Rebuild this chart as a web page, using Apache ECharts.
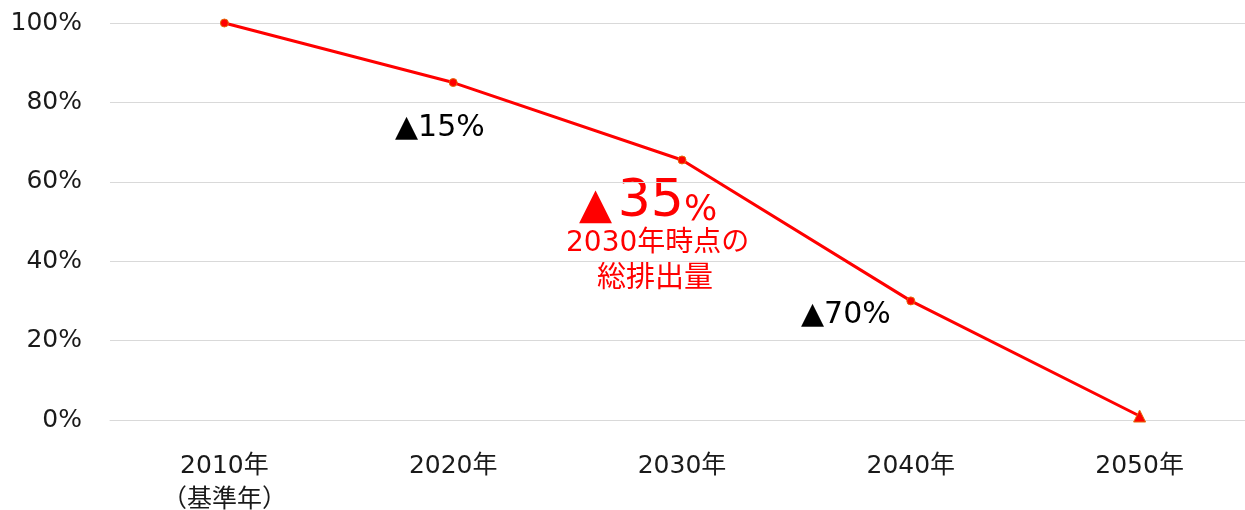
<!DOCTYPE html>
<html><head><meta charset="utf-8">
<script src="https://cdn.jsdelivr.net/npm/echarts@6/dist/echarts.min.js"></script>
<style>html,body{margin:0;padding:0;background:#fff}#c{width:1245px;height:510px}</style>
</head><body><div id="c"></div>
<script>
const categories = ['2010年\n（基準年）', '2020年', '2030年', '2040年', '2050年'];
const values = [100, 85, 65.5, 30, 1];
const markerSymbols = ['circle', 'circle', 'circle', 'circle', 'triangle'];
const yTicks = [0, 20, 40, 60, 80, 100];
const annotations = ['▲15%', '▲70%'];

const FONT = '"DejaVu Sans", "Noto Sans CJK JP", sans-serif';
const chart = echarts.init(document.getElementById('c'));
chart.setOption({
  animation: false,
  grid: { left: 110, right: -9, top: 23, bottom: 90, containLabel: false, outerBoundsMode: 'none' },
  xAxis: {
    type: 'category',
    data: categories,
    boundaryGap: true,
    axisTick: { show: false },
    axisLine: { lineStyle: { color: '#d9d9d9', width: 1 } },
    axisLabel: { color: '#1a1a1a', fontSize: 25, fontFamily: FONT, margin: 29, lineHeight: 34, interval: 0 }
  },
  yAxis: {
    type: 'value',
    min: yTicks[0], max: yTicks[yTicks.length - 1], interval: 20,
    axisLine: { show: false }, axisTick: { show: false },
    splitLine: { lineStyle: { color: '#d9d9d9', width: 1 } },
    axisLabel: { color: '#1a1a1a', fontSize: 25, fontFamily: FONT, margin: 28, formatter: '{value}%' }
  },
  series: [{
    type: 'line',
    data: values.map((v, i) => ({ value: v, symbol: markerSymbols[i], symbolSize: markerSymbols[i] === 'triangle' ? 12 : 8 })),
    lineStyle: { color: '#ff0000', width: 3 },
    itemStyle: { color: '#ff0000', borderColor: '#e46c0a', borderWidth: 1 },
    showAllSymbol: true
  }],
  graphic: [
    { type: 'text', left: 395, top: 113, style: { text: annotations[0], fontSize: 30, fontFamily: FONT, fill: '#000' } },
    { type: 'text', left: 801, top: 300, style: { text: annotations[1], fontSize: 30, fontFamily: FONT, fill: '#000' } },
    { type: 'text', left: 579, top: 176, style: {
        text: '{a|▲}{s| }{b|35}{c|%}',
        rich: {
          a: { fontSize: 43, fontFamily: FONT, fill: '#ff0000', verticalAlign: 'bottom' },
          s: { fontSize: 18, fontFamily: FONT, fill: '#ff0000', verticalAlign: 'bottom' },
          b: { fontSize: 52, fontFamily: FONT, fill: '#ff0000', verticalAlign: 'bottom' },
          c: { fontSize: 35, fontFamily: FONT, fill: '#ff0000', verticalAlign: 'bottom' }
        } } },
    { type: 'text', left: 566, top: 230, style: { text: '2030年時点の', fontSize: 28, fontFamily: FONT, fill: '#ff0000' } },
    { type: 'text', left: 597, top: 265, style: { text: '総排出量', fontSize: 29, fontFamily: FONT, fill: '#ff0000' } }
  ]
});
</script></body></html>
